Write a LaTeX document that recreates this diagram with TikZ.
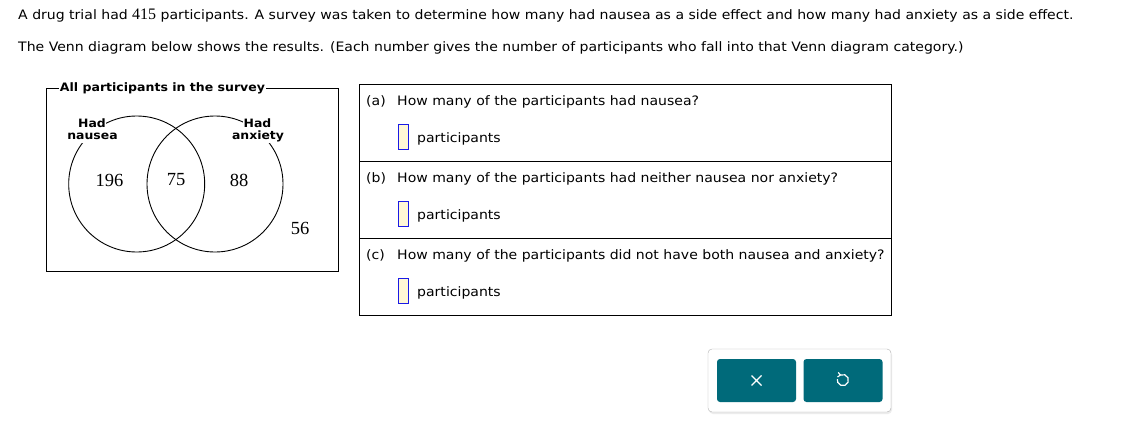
\documentclass[tikz,border=0pt]{standalone}
\usepackage{fontspec}
\setmainfont[FakeStretch=1.08]{DejaVu Sans}
\newfontfamily\numfont{Liberation Serif}
\usetikzlibrary{shadows,calc,arrows.meta}
\definecolor{teal1}{HTML}{006A7A}
\definecolor{ansfill}{HTML}{FFF8D6}
\definecolor{ansblue}{HTML}{1A1AE6}
\tikzset{
  txt/.style={anchor=base west, inner sep=0pt, font=\fontsize{13}{15}\selectfont},
  num/.style={inner sep=0pt, font=\numfont\fontsize{18.5}{20}\selectfont},
  lbl/.style={inner xsep=0.3pt, inner ysep=0pt, minimum height=13.6pt, fill=white, font=\bfseries\fontsize{11.5}{11}\selectfont},
  ansbox/.style={draw=ansblue, fill=ansfill, line width=1pt, minimum width=10pt, minimum height=25pt, inner sep=0pt},
  btn/.style={fill=teal1, rounded corners=3pt, minimum width=79pt, minimum height=43pt, inner sep=0pt},
  thin/.style={line width=0.9pt}
}
\begin{document}
\begin{tikzpicture}[x=1pt,y=-1pt]
\useasboundingbox[fill=white] (0,0) rectangle (1131,436);
% header text
\node[txt] (l1) at (18,20) {A drug trial had {\numfont\fontsize{16}{17}\selectfont 415} participants. A survey was taken to determine how many had nausea as a side effect and how many had anxiety as a side effect.};
\node[txt] (l2) at (18,52) {The Venn diagram below shows the results. (Each number gives the number of participants who fall into that Venn diagram category.)};
% Venn
\draw[thin] (46,88) rectangle (338,271);
\draw[thin] (136.7,184) circle (68);
\draw[thin] (215,184) circle (68);
\node[lbl, inner sep=1pt, font=\bfseries\fontsize{11.6}{12}\selectfont] (ttl) at (162.5,88) {All participants in the survey};
\node[lbl] (hn1) at (92,123) {Had};
\node[lbl] (hn2) at (92.5,136) {nausea};
\node[lbl] (ha1) at (257.5,123) {Had};
\node[lbl] (ha2) at (258,136) {anxiety};
\node[num] (n196) at (109.5,180) {196};
\node[num] (n75) at (176,180) {75};
\node[num] (n88) at (239,180) {88};
\node[num] (n56) at (300,228) {56};
% table
\draw[thin] (359,84) rectangle (891,315);
\draw[thin] (359,161) -- (891,161);
\draw[thin] (359,238) -- (891,238);
\foreach \r/\q/\yy in {a/{How many of the participants had nausea?}/0, b/{How many of the participants had neither nausea nor anxiety?}/77, c/{How many of the participants did not have both nausea and anxiety?}/154}{
  \node[txt] (p\r) at (366,105+\yy) {(\r)};
  \node[txt] (q\r) at (397,105+\yy) {\q};
  \node[ansbox] (b\r) at (403,137+\yy) {};
  \node[txt] (u\r) at (417,142+\yy) {participants};
}
% buttons
\node[draw=gray!60, fill=white, rounded corners=4pt, minimum width=183pt, minimum height=63pt, drop shadow={opacity=0.15, shadow xshift=1pt, shadow yshift=-2pt}] (panel) at (799.5,380.5) {};
\node[btn] (bx) at (756.5,380.5) {};
\node[btn] (br) at (843,380.5) {};
\draw[white, line width=1.2pt] ($(bx)+(-5,-5)$) -- ($(bx)+(5,5)$) ($(bx)+(-5,5)$) -- ($(bx)+(5,-5)$);
\draw[white, line width=1.2pt] ($(br)+(-2.5,-5.5)$) arc[start angle=-115, end angle=190, radius=5.6];
\draw[white, line width=1.2pt] ($(br)+(-4.8,-8)$) -- ($(br)+(-2.5,-5.5)$) -- ($(br)+(-5.5,-3.5)$);
\end{tikzpicture}
\end{document}
